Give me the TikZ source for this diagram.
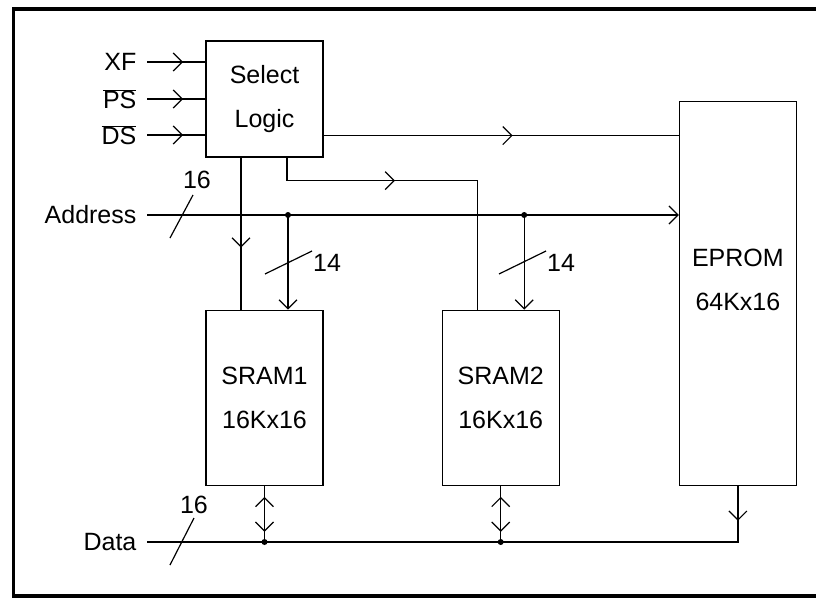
\documentclass[tikz,border=0pt]{standalone}
\usepackage{fontspec}
\setmainfont{Liberation Sans}
\usetikzlibrary{arrows.meta,positioning,decorations.markings,calc}

\begin{document}
\begin{tikzpicture}[x=1pt, y=-1pt, line width=1.2pt, font=\fontsize{25}{44}\selectfont,
  >={Straight Barb[length=9pt, width=18pt]},
  blk/.style={draw, minimum width=117pt, inner sep=0pt, align=center},
  sig/.style={anchor=east, inner xsep=10pt, inner ysep=0pt},
  bw/.style={inner sep=0pt},
  midarr/.style={postaction={decorate}, decoration={markings, mark=at position #1 with {\arrow{>}}}},
  biarr/.style={postaction={decorate}, decoration={markings,
      mark=at position 11pt with {\arrowreversed{>}}, mark=at position 46pt with {\arrow{>}}}}]
  \useasboundingbox (0,0) rectangle (816,597);
  \draw[line width=3.5pt] (830,9) -- (13.5,9) -- (13.5,596) -- (830,596);
  % blocks
  \node[blk, minimum height=116pt] (sel) at (264.5,99) {Select\\Logic};
  \node[blk, minimum height=175pt, below=152pt of sel] (sram1) {SRAM1\\16Kx16};
  \node[blk, minimum height=175pt, right=118pt of sram1] (sram2) {SRAM2\\16Kx16};
  \node[blk, minimum height=384pt, anchor=south west] (eprom) at ($(sram2.south east)+(119,0)$) {};
  \node[align=center] (eromtxt) at ($(eprom.center)+(0,-13.5)$) {EPROM\\64Kx16};
  % signals
  \node[sig] (xf) at (147,62) {XF};
  \node[sig] (ps) at (147,99) {\(\overline{\mbox{PS}}\)};
  \node[sig] (ds) at (147,135) {\(\overline{\mbox{DS}}\)};
  \node[sig] (addr) at (147,215) {Address};
  \node[sig] (data) at (147,542) {Data};
  \foreach \s in {xf,ps,ds} \draw[midarr=36pt] (\s.east) -- (\s.east -| sel.west);
  % select lines
  \coordinate (se) at ($(sel.south east)+(0,-22)$);
  \draw[midarr=189pt] (se) -- (se -| eprom.west);
  \draw[midarr=90pt] ($(sel.south)+(-23.5,0)$) -- ($(sram1.north)+(-23.5,0)$);
  \draw[midarr=131pt] ($(sel.south)+(22.5,0)$) -- ++(0,23) -| ($(sram2.north)+(-23.5,0)$);
  % address bus
  \draw[->] (addr.east) -- (addr.east -| eprom.west);
  \coordinate (a1) at ($(sram1.north)+(23.5,0)$);
  \coordinate (a2) at ($(sram2.north)+(23.5,0)$);
  \foreach \t in {a1,a2} {
    \fill (\t |- addr.east) circle (3);
    \draw[->] (\t |- addr.east) -- (\t);
  }
  \draw (170,238) -- (193,195);
  \node[bw] (abw) at (197,180) {16};
  \draw (265,274) -- (312,251);
  \node[bw] (s1bw) at (327,263) {14};
  \draw (499,274) -- (546,251);
  \node[bw] (s2bw) at (561,263) {14};
  % data bus
  \draw[midarr=35pt] (eprom.south) |- (data.east);
  \foreach \m in {sram1,sram2} {
    \fill (\m.south |- data.east) circle (3);
    \draw[biarr] (\m.south) -- (\m.south |- data.east);
  }
  \draw (170,565) -- (194,518);
  \node[bw] (dbw) at (194,505) {16};
\end{tikzpicture}
\end{document}
